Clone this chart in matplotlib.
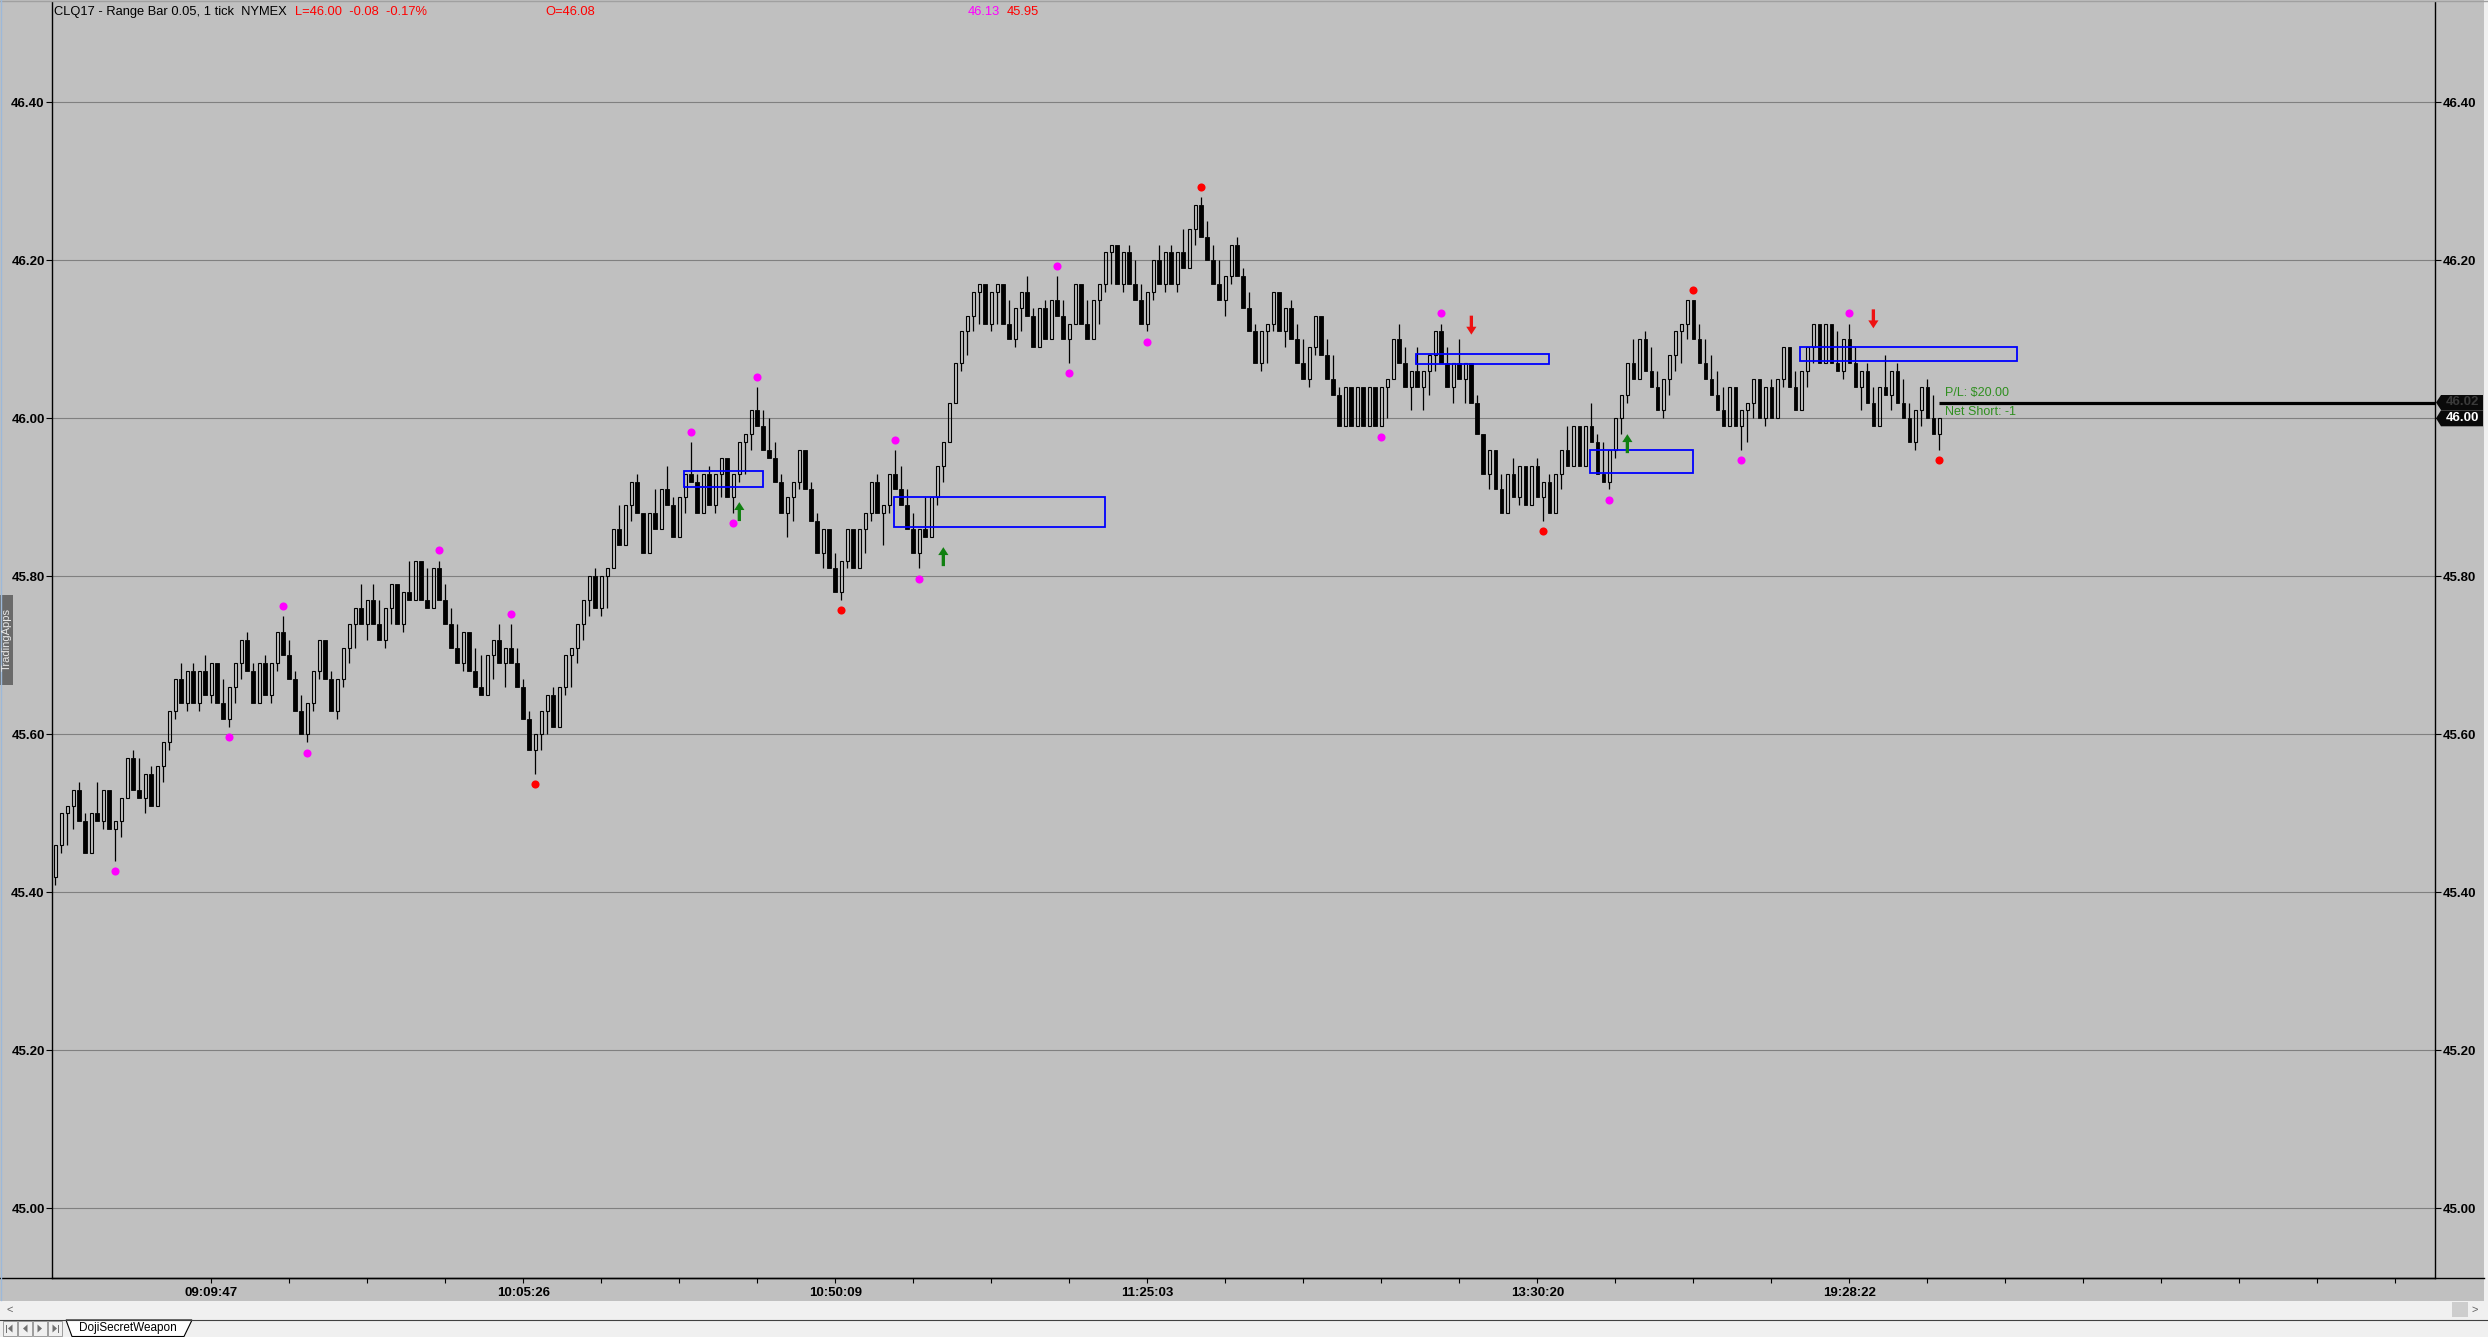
import matplotlib
matplotlib.use("Agg")
import matplotlib.pyplot as plt
import numpy as np
from matplotlib.patches import Rectangle, Polygon, FancyArrow
from matplotlib.lines import Line2D

W, H = 2488, 1337
BG = "#c0c0c0"
plt.rcParams["font.family"] = ["Liberation Sans", "DejaVu Sans"]

# -------------------------
# Datos (barras de rango 0.05, cierres en centavos)
# -------------------------
first_open = 45.42
range_size = 0.05
closes_cents = [
    4546, 4550, 4551, 4553, 4549, 4545, 4550, 4549, 4553, 4548,
    4549, 4552, 4557, 4553, 4552, 4555, 4551, 4556, 4559, 4563,
    4567, 4564, 4568, 4564, 4568, 4565, 4569, 4564, 4562, 4566,
    4569, 4572, 4568, 4564, 4569, 4565, 4569, 4573, 4570, 4567,
    4563, 4560, 4564, 4568, 4572, 4567, 4563, 4567, 4571, 4574,
    4576, 4574, 4577, 4574, 4572, 4576, 4579, 4574, 4578, 4577,
    4582, 4577, 4576, 4581, 4577, 4574, 4571, 4569, 4573, 4568,
    4566, 4565, 4570, 4572, 4569, 4571, 4569, 4566, 4562, 4558,
    4560, 4563, 4565, 4561, 4566, 4570, 4571, 4574, 4577, 4580,
    4576, 4580, 4581, 4586, 4584, 4589, 4592, 4588, 4583, 4588,
    4586, 4591, 4589, 4585, 4590, 4593, 4592, 4588, 4593, 4589,
    4593, 4595, 4590, 4593, 4597, 4598, 4601, 4599, 4596, 4595,
    4592, 4588, 4590, 4592, 4596, 4591, 4587, 4583, 4586, 4581,
    4578, 4582, 4586, 4581, 4586, 4588, 4592, 4588, 4589, 4593,
    4591, 4589, 4586, 4583, 4586, 4585, 4590, 4594, 4597, 4602,
    4607, 4611, 4613, 4616, 4617, 4612, 4616, 4617, 4612, 4610,
    4614, 4616, 4613, 4609, 4614, 4610, 4615, 4613, 4610, 4612,
    4617, 4612, 4610, 4615, 4617, 4621, 4622, 4617, 4621, 4617,
    4615, 4612, 4616, 4620, 4617, 4621, 4617, 4621, 4619, 4624,
    4627, 4623, 4620, 4617, 4615, 4618, 4622, 4618, 4614, 4611,
    4607, 4611, 4612, 4616, 4611, 4614, 4610, 4607, 4605, 4609,
    4613, 4608, 4605, 4603, 4599, 4604, 4599, 4604, 4599, 4604,
    4599, 4604, 4605, 4610, 4607, 4604, 4606, 4604, 4606, 4608,
    4611, 4607, 4604, 4607, 4605, 4607, 4602, 4598, 4593, 4596,
    4591, 4588, 4593, 4590, 4594, 4589, 4594, 4590, 4592, 4588,
    4593, 4596, 4594, 4599, 4594, 4599, 4597, 4593, 4592, 4596,
    4600, 4603, 4607, 4605, 4610, 4606, 4604, 4601, 4605, 4608,
    4611, 4612, 4615, 4610, 4607, 4605, 4603, 4601, 4599, 4604,
    4599, 4601, 4602, 4605, 4600, 4604, 4600, 4605, 4609, 4604,
    4601, 4606, 4609, 4612, 4607, 4612, 4607, 4606, 4610, 4607,
    4604, 4606, 4602, 4599, 4604, 4603, 4606, 4602, 4600, 4597,
    4601, 4604, 4600, 4598, 4600,
]
# la ultima barra aun se esta formando
last_bar_low = 45.96

# puntos de swing (indice de barra, True = encima del maximo)
magenta_bars = [10, 29, 38, 42, 64, 76, 106, 113, 117, 140, 144, 167, 169, 182, 221, 231, 259, 281, 299]
magenta_above = [False, False, True, False, True, True, True, False, True, True, False, True, False, False,
                 False, True, False, False, True]
red_bars = [80, 131, 191, 248, 273, 314]
red_above = [False, False, True, False, True, False]

# zonas azules
zone_start = [105, 140, 227, 256, 291]
zone_end = [118, 175, 249, 273, 327]
zone_low = [45.913, 45.862, 46.069, 45.931, 46.072]
zone_high = [45.933, 45.901, 46.081, 45.960, 46.090]

# flechas de senal
buy_bars = [114, 148, 262]
buy_tips = [45.894, 45.837, 45.980]
sell_bars = [236, 303]
sell_tips = [46.106, 46.114]

# eje de tiempo
tick_step = 13
time_tick_bars = [26, 78, 130, 182, 247, 299]
time_labels = ["09:09:47", "10:05:26", "10:50:09", "11:25:03", "13:30:20", "19:28:22"]

price_ticks = [45.00, 45.20, 45.40, 45.60, 45.80, 46.00, 46.20, 46.40]
last_price = 46.02
last_close = 46.00

# -------------------------
# OHLC de barras de rango
# -------------------------
closes = np.array(closes_cents) / 100.0
opens = np.concatenate([[first_open], closes[:-1]])
up = closes > opens
highs = np.where(up, closes, closes + range_size)
lows = np.where(up, closes - range_size, closes)
lows[-1] = last_bar_low
xs = np.arange(len(closes))
body_top = np.maximum(opens, closes)
body_bot = np.minimum(opens, closes)


def fx(px):
    return px / W


def fy(py):
    return 1 - py / H


fig = plt.figure(figsize=(W / 100, H / 100), dpi=100, facecolor=BG)
ax = fig.add_axes([fx(52), fy(1278), (2435 - 52) / W, (1278 - 2) / H])
ax.set_facecolor(BG)
ax.set_xlim(-0.55, 396.6)
ax.set_ylim(44.912, 46.527)

# grilla
ax.set_yticks(price_ticks)
ax.yaxis.set_major_formatter(matplotlib.ticker.FormatStrFormatter("%.2f"))
ax.grid(axis="y", color="#808080", lw=0.8)
ax.set_axisbelow(True)

# mechas
ax.vlines(xs, body_top, highs, color="black", lw=0.9, zorder=2)
ax.vlines(xs, lows, body_bot, color="black", lw=0.9, zorder=2)

# cuerpos
ax.bar(xs[up], (body_top - body_bot)[up], bottom=body_bot[up], width=0.56,
       facecolor="none", edgecolor="black", lw=0.8, zorder=3)
ax.bar(xs[~up], (body_top - body_bot)[~up], bottom=body_bot[~up], width=0.62,
       facecolor="black", edgecolor="black", lw=0.6, zorder=3)

# zonas
for s, e, lo, hi in zip(zone_start, zone_end, zone_low, zone_high):
    ax.add_patch(Rectangle((s - 0.2, lo), e - s + 0.2, hi - lo, fill=False,
                           edgecolor="#0000ff", lw=1.3, zorder=4))

# puntos de swing
dot_off = 0.013
for bars, above, col in [(magenta_bars, magenta_above, "#ff00ff"), (red_bars, red_above, "#ff0000")]:
    bars = np.array(bars)
    above = np.array(above)
    ys = np.where(above, highs[bars] + dot_off, lows[bars] - dot_off)
    ax.scatter(bars, ys, s=34, color=col, zorder=5, linewidths=0)

# flechas
arr_len = 0.024
for b, tip in zip(buy_bars, buy_tips):
    ax.add_patch(FancyArrow(b, tip - arr_len, 0, arr_len, width=0.55, head_width=1.7,
                            head_length=0.010, length_includes_head=True,
                            color="#108010", lw=0, zorder=5))
for b, tip in zip(sell_bars, sell_tips):
    ax.add_patch(FancyArrow(b, tip + arr_len, 0, -arr_len, width=0.55, head_width=1.7,
                            head_length=0.010, length_includes_head=True,
                            color="#ee1111", lw=0, zorder=5))

# linea de precio y P/L
last_idx = len(closes) - 1
ax.hlines(last_price, last_idx, 396.6, color="black", lw=2.3, zorder=4)
ax.text(last_idx + 0.95, 46.032, "P/L: $20.00", color="#2f8f1f", fontsize=9,
        va="center", ha="left", zorder=6)
ax.text(last_idx + 0.95, 46.008, "Net Short: -1", color="#2f8f1f", fontsize=9,
        va="center", ha="left", zorder=6)

# ejes
for side in ["left", "right", "bottom"]:
    ax.spines[side].set_color("black")
    ax.spines[side].set_linewidth(1.0)
ax.spines["top"].set_visible(False)

ax.tick_params(axis="y", which="both", direction="out", length=4.3, width=0.8,
               left=True, right=True, labelleft=True, labelright=True, pad=1,
               labelsize=9.5, colors="black")
for t in ax.yaxis.get_major_ticks():
    t.label1.set_fontweight("bold")
    t.label2.set_fontweight("bold")

x_ticks = list(range(26, 397, tick_step))
x_labels = [time_labels[time_tick_bars.index(b)] if b in time_tick_bars else "" for b in x_ticks]
ax.set_xticks(x_ticks)
ax.set_xticklabels(x_labels, fontsize=9.5, fontweight="bold")
ax.tick_params(axis="x", direction="out", length=3.6, width=0.8, pad=3, colors="black")

# -------------------------
# Cabecera
# -------------------------
hy = fy(11.7)
hfs = 9.3
fig.text(fx(54), hy, "CLQ17 - Range Bar 0.05, 1 tick  NYMEX", fontsize=hfs, color="black", va="center")
fig.text(fx(295), hy, "L=46.00  -0.08  -0.17%", fontsize=hfs, color="#ff0000", va="center")
fig.text(fx(545), hy, "O=46.08", fontsize=hfs, color="#ff0000", va="center")
fig.text(fx(968), hy, "46.13", fontsize=hfs, color="#ff00ff", va="center")
fig.text(fx(1007), hy, "45.95", fontsize=hfs, color="#ff0000", va="center")


def px_rect(x0, y0, x1, y1, **kw):
    fig.patches.append(Rectangle((fx(x0), fy(y1)), (x1 - x0) / W, (y1 - y0) / H,
                                 transform=fig.transFigure, **kw))


def px_poly(pts, **kw):
    fig.patches.append(Polygon([(fx(a), fy(b)) for a, b in pts], closed=True,
                               transform=fig.transFigure, **kw))


# marco superior y borde derecho
fig.lines.append(Line2D([0, 1], [fy(0.5), fy(0.5)], transform=fig.transFigure, color="#a0a0a0", lw=1))
px_rect(2484, 0, 2488, 1337, facecolor="#f0f0f0", lw=0)
fig.lines.append(Line2D([0, fx(2484)], [fy(1278), fy(1278)], transform=fig.transFigure,
                        color="black", lw=1.0))
fig.lines.append(Line2D([fx(0.6), fx(0.6)], [fy(0), fy(1300)], transform=fig.transFigure,
                        color="#9db9d9", lw=1))

# etiquetas de precio a la derecha
py_last = 102.3 + (46.40 - last_price) * 790
py_close = 102.3 + (46.40 - last_close) * 790
px_poly([(2436, py_last), (2441, py_last - 7.5), (2483, py_last - 7.5), (2483, py_last + 7.5),
         (2441, py_last + 7.5)], facecolor="#0a0a0a", lw=0)
fig.text(fx(2462), fy(py_last), "%.2f" % last_price, fontsize=9.5, fontweight="bold",
         color="#3a3a3a", ha="center", va="center")
px_poly([(2436, py_close), (2441, py_close - 8), (2483, py_close - 8), (2483, py_close + 8),
         (2441, py_close + 8)], facecolor="#0a0a0a", lw=0)
fig.text(fx(2462), fy(py_close), "%.2f" % last_close, fontsize=9.5, fontweight="bold",
         color="white", ha="center", va="center")

# pestana TradingApps
px_rect(0, 595, 12.7, 685, facecolor="#6a6a6a", lw=0)
fig.text(fx(6.5), fy(640), "TradingApps", rotation=90, fontsize=8, color="#e8e8e8",
         ha="center", va="center")

# barra de desplazamiento y pestanas
px_rect(0, 1300.5, 2484, 1319, facecolor="#f0f0f0", lw=0)
px_rect(2452, 1302, 2468, 1317, facecolor="#cdcdcd", lw=0)
fig.text(fx(10), fy(1310), "<", fontsize=8, color="#606060", ha="center", va="center")
fig.text(fx(2475), fy(1310), ">", fontsize=8, color="#606060", ha="center", va="center")
px_rect(0, 1319, 2488, 1337, facecolor="#f0f0f0", lw=0)
fig.lines.append(Line2D([0, 1], [fy(1319.5), fy(1319.5)], transform=fig.transFigure,
                        color="#404040", lw=0.8))
for i in range(4):
    bx = 3 + i * 15
    px_rect(bx, 1321, bx + 14, 1336, facecolor="#f0f0f0", edgecolor="#909090", lw=0.6)
    cx = bx + 7
    if i in (0, 1):
        px_poly([(cx + 2.5, 1324.5), (cx + 2.5, 1332.5), (cx - 2, 1328.5)], facecolor="#707070", lw=0)
    else:
        px_poly([(cx - 2.5, 1324.5), (cx - 2.5, 1332.5), (cx + 2, 1328.5)], facecolor="#707070", lw=0)
    if i == 0:
        px_rect(cx - 4, 1324.5, cx - 3, 1332.5, facecolor="#707070", lw=0)
    if i == 3:
        px_rect(cx + 3, 1324.5, cx + 4, 1332.5, facecolor="#707070", lw=0)
px_poly([(66, 1320), (72, 1336.5), (184, 1336.5), (192, 1320)], facecolor="white",
        edgecolor="black", lw=0.8)
fig.text(fx(128), fy(1328.5), "DojiSecretWeapon", fontsize=8.5, color="black", ha="center", va="center")

fig.savefig("out.png", dpi=100, facecolor=BG)
